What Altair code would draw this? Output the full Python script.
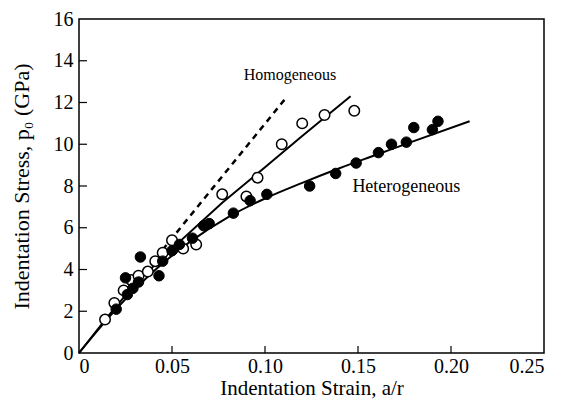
import altair as alt
import pandas as pd

# Homogeneous (open circles)
open_x = [0.014, 0.019, 0.024, 0.028, 0.032, 0.037, 0.041, 0.045, 0.050, 0.056, 0.063, 0.077, 0.090, 0.096, 0.109, 0.120, 0.132, 0.148]
open_y = [1.6, 2.4, 3.0, 3.5, 3.7, 3.9, 4.4, 4.8, 5.4, 5.0, 5.2, 7.6, 7.5, 8.4, 10.0, 11.0, 11.4, 11.6]

# Heterogeneous (filled circles)
fill_x = [0.020, 0.025, 0.026, 0.029, 0.032, 0.033, 0.043, 0.045, 0.050, 0.054, 0.061, 0.067, 0.070, 0.083, 0.092, 0.101, 0.124, 0.138, 0.149, 0.161, 0.168, 0.176, 0.180, 0.190, 0.193]
fill_y = [2.1, 3.6, 2.8, 3.1, 3.4, 4.6, 3.7, 4.4, 4.9, 5.2, 5.5, 6.1, 6.2, 6.7, 7.3, 7.6, 8.0, 8.6, 9.1, 9.6, 10.0, 10.1, 10.8, 10.7, 11.1]

# Fitted curves
homo_line_x = [0.0, 0.015, 0.03, 0.05, 0.077, 0.10, 0.12, 0.146]
homo_line_y = [0.0, 1.7, 3.3, 5.0, 7.2, 8.9, 10.4, 12.3]
het_line_x = [0.0, 0.02, 0.04, 0.06, 0.08, 0.10, 0.12, 0.14, 0.16, 0.18, 0.21]
het_line_y = [0.0, 2.1, 3.9, 5.35, 6.5, 7.4, 8.15, 8.85, 9.5, 10.15, 11.1]
dash_x = [0.045, 0.112]
dash_y = [4.95, 12.3]

label_homo = ["Homogeneous"]
label_homo_x = [0.1134]
label_homo_y = [13.3]
label_het = ["Heterogeneous"]
label_het_x = [0.176]
label_het_y = [7.95]

x_ticks = [0.0, 0.05, 0.10, 0.15, 0.20, 0.25]
y_ticks = [0, 2, 4, 6, 8, 10, 12, 14, 16]

W, H = 465, 334
FONT = "Liberation Serif"

xs = alt.Scale(domain=[0, 0.25], nice=False, zero=False)
ys = alt.Scale(domain=[0, 16], nice=False, zero=False)

xax = alt.Axis(values=x_ticks, tickSize=0, labelPadding=3, domain=False, grid=False,
               labelExpr="datum.value == 0 ? '0' : format(datum.value, '.2f')",
               labelFont=FONT, labelFontSize=20, labelColor="black",
               title="Indentation Strain, a/r", titleFont=FONT, titleFontSize=21,
               titleFontWeight="normal", titleColor="black", titlePadding=1)
yax = alt.Axis(values=y_ticks, tickSize=0, labelPadding=6, domain=False, grid=False,
               labelFont=FONT, labelFontSize=20, labelColor="black",
               title="Indentation Stress, p₀ (GPa)", titleFont=FONT, titleFontSize=22,
               titleFontWeight="normal", titleColor="black", titlePadding=20)

df_open = pd.DataFrame({"x": open_x, "y": open_y})
df_fill = pd.DataFrame({"x": fill_x, "y": fill_y})
df_homo = pd.DataFrame({"x": homo_line_x, "y": homo_line_y})
df_het = pd.DataFrame({"x": het_line_x, "y": het_line_y})
df_dash = pd.DataFrame({"x": dash_x, "y": dash_y})
df_lab1 = pd.DataFrame({"x": label_homo_x, "y": label_homo_y, "t": label_homo})
df_lab2 = pd.DataFrame({"x": label_het_x, "y": label_het_y, "t": label_het})
df_xt = pd.DataFrame({"v": x_ticks[1:-1]})
df_yt = pd.DataFrame({"v": y_ticks[1:-1]})

base_axes = alt.Chart(df_homo).mark_line(color="black", strokeWidth=2).encode(
    x=alt.X("x:Q", scale=xs, axis=xax),
    y=alt.Y("y:Q", scale=ys, axis=yax),
)
het = alt.Chart(df_het).mark_line(color="black", strokeWidth=2, interpolate="monotone").encode(
    x=alt.X("x:Q", scale=xs), y=alt.Y("y:Q", scale=ys))
dash = alt.Chart(df_dash).mark_line(color="black", strokeWidth=2.5, strokeDash=[6, 5]).encode(
    x=alt.X("x:Q", scale=xs), y=alt.Y("y:Q", scale=ys))
pts_open = alt.Chart(df_open).mark_point(shape="circle", filled=True, fill="white",
                                          stroke="black", strokeWidth=1.5, size=110, opacity=1).encode(
    x=alt.X("x:Q", scale=xs), y=alt.Y("y:Q", scale=ys))
pts_fill = alt.Chart(df_fill).mark_point(shape="circle", filled=True, fill="black",
                                          stroke="black", strokeWidth=1, size=110, opacity=1).encode(
    x=alt.X("x:Q", scale=xs), y=alt.Y("y:Q", scale=ys))
txt1 = alt.Chart(df_lab1).mark_text(font=FONT, fontSize=16, color="black", align="center",
                                     baseline="middle").encode(
    x=alt.X("x:Q", scale=xs), y=alt.Y("y:Q", scale=ys), text="t:N")
txt2 = alt.Chart(df_lab2).mark_text(font=FONT, fontSize=18, color="black", align="center",
                                     baseline="middle").encode(
    x=alt.X("x:Q", scale=xs), y=alt.Y("y:Q", scale=ys), text="t:N")
xt = alt.Chart(df_xt).mark_rule(color="black", strokeWidth=1.2).encode(
    x=alt.X("v:Q", scale=xs), y=alt.value(H), y2=alt.value(H - 7))
yt = alt.Chart(df_yt).mark_rule(color="black", strokeWidth=1.2).encode(
    y=alt.Y("v:Q", scale=ys), x=alt.value(0), x2=alt.value(8))
frame = alt.Chart(df_xt.head(1)).mark_rect(fill=None, filled=False, stroke="black", strokeWidth=1.5).encode(
    x=alt.value(0), x2=alt.value(W), y=alt.value(0), y2=alt.value(H))

chart = alt.layer(frame, base_axes, het, dash, xt, yt, pts_open, pts_fill, txt1, txt2).properties(
    width=W, height=H,
    autosize=alt.AutoSizeParams(type="none"),
    padding={"left": 71, "top": 11, "right": 13, "bottom": 55},
).configure(background="white").configure_view(stroke=None)

chart.save("out.html", embed_options={"renderer": "svg", "actions": False})
